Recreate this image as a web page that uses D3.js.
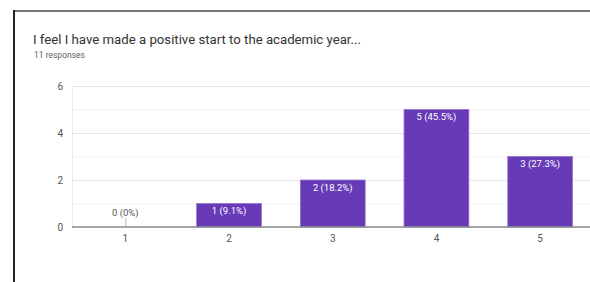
<!DOCTYPE html>
<html lang="en">
<head>
  <meta charset="UTF-8">
  <title>Positive start</title>
  <style>
  body { margin: 0; background: #fff; }
  #chart { position: relative; width: 590px; height: 282px; overflow: hidden; }
  text { font-family: Roboto, Arial, sans-serif; }
  </style>
</head>
<body>
  <div id="chart"></div>
  <script src="https://cdn.jsdelivr.net/npm/d3@7"></script>
  <script>

const title = 'I feel I have made a positive start to the academic year...'
const subtitle = '11 responses'
const categories = ['1', '2', '3', '4', '5']
const counts = [0, 1, 2, 5, 3]
const percents = ['0%', '9.1%', '18.2%', '45.5%', '27.3%']
const yTicks = [0, 2, 4, 6]
const yMinor = [1, 3, 5]

const width = 590, height = 282
const svg = d3.select('#chart').append('svg')
    .attr('width', width)
    .attr('height', height)

// card frame, cut off at right and bottom
svg.append('line').attr('x1', 13).attr('x2', width).attr('y1', 11).attr('y2', 11)
    .attr('stroke', '#777').attr('stroke-width', 2)
svg.append('line').attr('x1', 14).attr('x2', 14).attr('y1', 10).attr('y2', height)
    .attr('stroke', '#222').attr('stroke-width', 2)

svg.append('text').attr('x', 33).attr('y', 44)
    .attr('font-size', 13.2).attr('fill', '#333')
    .text(title)
svg.append('text').attr('x', 34).attr('y', 58)
    .attr('font-size', 8.5).attr('fill', '#5f6368')
    .text(subtitle)

const x = d3.scaleBand()
    .domain(categories)
    .range([73.5, 592])
    .paddingInner(0.375)
    .paddingOuter(0.1875)

const y = d3.scaleLinear()
    .domain([0, 6])
    .range([227, 86])

const g = svg.append('g')

// minor + major grid
g.selectAll('.minor').data(yMinor).join('line')
    .attr('x1', 72).attr('x2', width)
    .attr('y1', d => y(d) + 0.5).attr('y2', d => y(d) + 0.5)
    .attr('stroke', '#f3f3f3')
g.selectAll('.major').data(yTicks.filter(d => d > 0)).join('line')
    .attr('x1', 72).attr('x2', width)
    .attr('y1', d => y(d) + 0.5).attr('y2', d => y(d) + 0.5)
    .attr('stroke', '#e6e6e6')
g.append('line').attr('x1', 72.5).attr('x2', 72.5).attr('y1', y(6)).attr('y2', y(0))
    .attr('stroke', '#ececec')

// y axis labels
const yAxis = d3.axisLeft(y).tickValues(yTicks).tickFormat(d3.format('d')).tickSize(0).tickPadding(0)
svg.append('g').attr('transform', 'translate(63,0)').call(yAxis)
    .call(s => s.select('.domain').remove())
    .selectAll('text').attr('font-size', 10).attr('fill', '#555')
    .attr('font-family', 'Roboto, Arial, sans-serif')

const data = categories.map((c, i) => ({ c, v: counts[i], p: percents[i] }))

// bars
g.selectAll('.bar').data(data.filter(d => d.v > 0)).join('rect')
    .attr('x', d => x(d.c))
    .attr('y', d => y(d.v))
    .attr('width', x.bandwidth())
    .attr('height', d => y(0) - y(d.v))
    .attr('fill', '#673ab7')
    .attr('stroke', '#9575cd')
    .attr('stroke-width', 0.8)

// zero marker
data.filter(d => d.v === 0).forEach(d => {
  const cx = x(d.c) + x.bandwidth() / 2
  g.append('line').attr('x1', cx + 0.5).attr('x2', cx + 0.5)
      .attr('y1', y(0) - 9).attr('y2', y(0))
      .attr('stroke', '#bbb')
  g.append('text').attr('x', cx).attr('y', y(0) - 11)
      .attr('text-anchor', 'middle').attr('font-size', 9.5).attr('fill', '#555')
      .text(`${d.v} (${d.p})`)
})

// labels inside bars
g.selectAll('.lbl').data(data.filter(d => d.v > 0)).join('text')
    .attr('x', d => x(d.c) + x.bandwidth() / 2)
    .attr('y', d => y(d.v) + 10.5)
    .attr('text-anchor', 'middle')
    .attr('font-size', 9.5)
    .attr('fill', '#fff')
    .text(d => `${d.v} (${d.p})`)

// baseline
g.append('line').attr('x1', 72).attr('x2', width)
    .attr('y1', y(0)).attr('y2', y(0))
    .attr('stroke', '#888').attr('stroke-width', 1.5)

// x axis labels
const xAxis = d3.axisBottom(x).tickSize(0).tickPadding(0)
svg.append('g').attr('transform', `translate(0,${y(0) + 8})`).call(xAxis)
    .call(s => s.select('.domain').remove())
    .selectAll('text').attr('font-size', 10).attr('fill', '#555')
    .attr('font-family', 'Roboto, Arial, sans-serif')

  </script>
</body>
</html>
